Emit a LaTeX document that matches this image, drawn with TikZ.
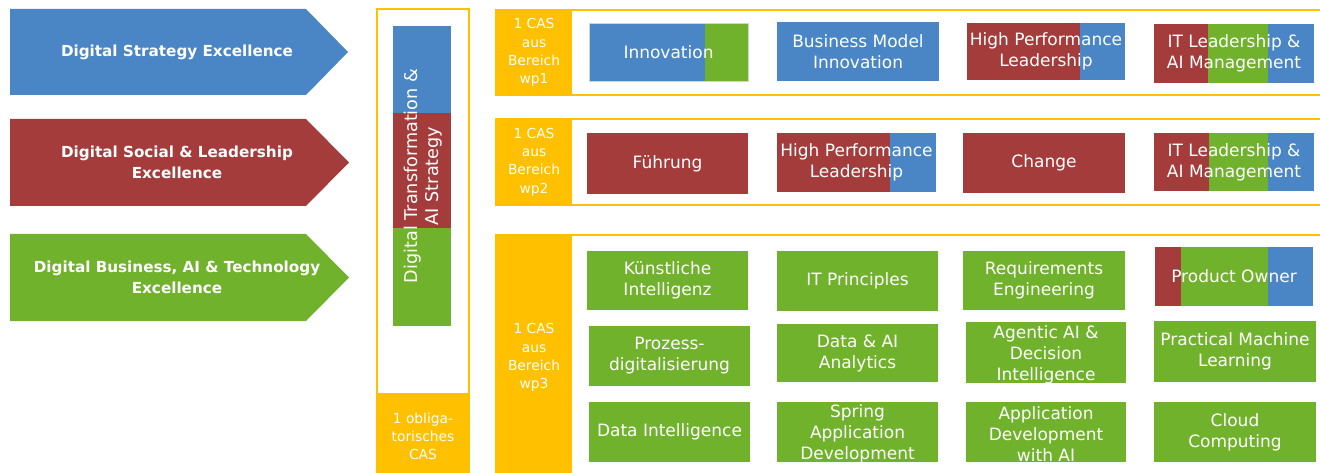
\documentclass[tikz,border=0pt]{standalone}
\usepackage{fontspec}
\setmainfont{DejaVu Sans}
\usetikzlibrary{calc}
\definecolor{cblue}{RGB}{74,134,197}
\definecolor{cred}{RGB}{164,60,60}
\definecolor{cgreen}{RGB}{113,178,45}
\definecolor{cyellow}{RGB}{255,192,0}
% tile: name, x1, y1, x2, y2, options, text
\newcommand\mytile[7]{\node[tile,#6,minimum width={(#4)-(#2)},minimum height={(#5)-(#3)}] (#1) at ({(#2+#4)/2},{(#3+#5)/2}) {#7};}
\begin{document}
\begin{tikzpicture}[x=1pt,y=-1pt,
  tile/.style={rectangle, inner sep=0pt, text=white, align=center,
    font=\fontsize{17}{21}\selectfont},
  casbox/.style={rectangle, fill=cyellow, inner sep=0pt, text=white, align=center,
    font=\fontsize{13.8}{18.3}\selectfont},
  band/.style={draw=cyellow, line width=2pt},
  arrowlbl/.style={text=white, align=center, inner sep=0pt,
    font=\fontsize{15.2}{20.5}\selectfont\bfseries},
  vlabel/.style={text=white, align=center, inner sep=0pt, rotate=90,
    font=\fontsize{17.6}{21}\selectfont},
  parts/.style n args={4}{path picture={
    \fill[#1] (path picture bounding box.north west) rectangle ([xshift=#2 pt]path picture bounding box.south west);
    \fill[#3] ([xshift=-#4 pt]path picture bounding box.north east) rectangle (path picture bounding box.south east);}}
]
\useasboundingbox (0,0) rectangle (1320,473);
\clip (0,0) rectangle (1320,473);
\fill[white] (0,0) rectangle (1320,473);

% excellence arrows
\fill[cblue] (10,9) -- (306,9) -- (348,52) -- (306,95) -- (10,95) -- cycle;
\node[arrowlbl] (strat) at (177,52) {Digital Strategy Excellence};
\fill[cred] (10,119) -- (306,119) -- (349,162.5) -- (306,206) -- (10,206) -- cycle;
\node[arrowlbl] (social) at (177,162.5) {Digital Social \& Leadership\\Excellence};
\fill[cgreen] (10,234) -- (306,234) -- (349,277.5) -- (306,321) -- (10,321) -- cycle;
\node[arrowlbl] (business) at (177,277.5) {Digital Business, AI \& Technology\\Excellence};

% mandatory column
\draw[cyellow, line width=1.6pt] (377,9) rectangle (469,490);
\fill[cblue] (393,26) rectangle (451,113);
\fill[cred] (393,113) rectangle (451,228);
\fill[cgreen] (393,228) rectangle (451,326);
\node[vlabel] (dtai) at (423,176) {Digital Transformation \&\\AI Strategy};
\node[casbox, minimum width=93, minimum height=87] (oblig) at (423,436.5) {1 obliga-\\torisches\\CAS};

% elective bands
\draw[band] (496,10) rectangle (1340,95);
\node[casbox, minimum width=76, minimum height=87] (wp1) at (534,52.5) {1 CAS\\aus\\Bereich\\wp1};
\draw[band] (496,119) rectangle (1340,205);
\node[casbox, minimum width=76, minimum height=88] (wp2) at (534,162) {1 CAS\\aus\\Bereich\\wp2};
\draw[band] (496,235) rectangle (1340,495);
\node[casbox, minimum width=76, minimum height=246] (wp3) at (534,357.5) {1 CAS\\aus\\Bereich\\wp3};

% wp1
\mytile{innov}{589}{23}{748}{81}{fill=cblue, draw=gray!35, line width=0.8pt, parts={cblue}{0}{cgreen}{43}}{Innovation}
\mytile{bmi}{777}{22}{939}{81}{fill=cblue}{Business Model\\Innovation}
\mytile{hplA}{967}{23}{1125}{80}{fill=cred, parts={cred}{0}{cblue}{45}}{High Performance\\Leadership}
\mytile{itlA}{1154}{24}{1314}{83}{fill=cgreen, parts={cred}{54}{cblue}{46}}{IT Leadership \&\\AI Management}

% wp2
\mytile{fuehrung}{587}{133}{748}{194}{fill=cred}{Führung}
\mytile{hplB}{777}{133}{936}{192}{fill=cred, parts={cred}{0}{cblue}{46}}{High Performance\\Leadership}
\mytile{change}{963}{133}{1125}{193}{fill=cred}{Change}
\mytile{itlB}{1154}{133}{1314}{191}{fill=cgreen, parts={cred}{55}{cblue}{46}}{IT Leadership \&\\AI Management}

% wp3
\mytile{ki}{587}{251}{748}{310}{fill=cgreen}{Künstliche\\Intelligenz}
\mytile{itp}{777}{251}{938}{311}{fill=cgreen}{IT Principles}
\mytile{req}{963}{251}{1125}{310}{fill=cgreen}{Requirements\\Engineering}
\mytile{po}{1155}{247}{1313}{306}{fill=cgreen, parts={cred}{26}{cblue}{45}}{Product Owner}
\mytile{proz}{589}{326}{750}{386}{fill=cgreen}{Prozess-\\digitalisierung}
\mytile{daa}{777}{324}{938}{382}{fill=cgreen}{Data \& AI\\Analytics}
\mytile{agentic}{966}{322}{1126}{383}{fill=cgreen}{}
\mytile{pml}{1154}{321}{1316}{382}{fill=cgreen}{Practical Machine\\Learning}
\mytile{di}{589}{402}{750}{462}{fill=cgreen}{Data Intelligence}
\mytile{spring}{777}{402}{938}{462}{fill=cgreen}{}
\mytile{appdev}{966}{402}{1126}{462}{fill=cgreen}{}
\mytile{cloud}{1154}{402}{1316}{462}{fill=cgreen}{Cloud\\Computing}

% three-line labels that run past their tiles are cut at the tile edge
\begin{scope}
  \clip (agentic.north west) rectangle (agentic.south east);
  \node[tile] (agentictext) at ($(agentic.center)+(0,2)$) {Agentic AI \&\\Decision\\Intelligence};
\end{scope}
\begin{scope}
  \clip (spring.north west) rectangle (spring.south east);
  \node[tile] (springtext) at ($(spring.center)+(0,2)$) {Spring\\Application\\Development};
\end{scope}
\begin{scope}
  \clip (appdev.north west) rectangle (appdev.south east);
  \node[tile] (appdevtext) at ($(appdev.center)+(0,2)$) {Application\\Development\\with AI};
\end{scope}
\end{tikzpicture}
\end{document}
